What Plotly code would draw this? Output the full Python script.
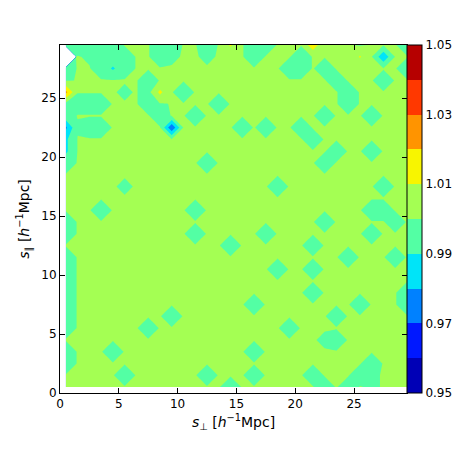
import numpy as np
import plotly.graph_objects as go

# bin centres of the (s_perp, s_par) grid
s_perp = [0.5 + k for k in range(30)]
s_par = [0.5 + k for k in range(30)]

# most bins sit just above 1.00; the rest are listed as (i_perp, j_par) cells
background = 1.0003
low_cells = [
    (0, 29), (1, 29), (2, 29), (3, 29), (4, 29), (8, 29), (9, 29), (12, 29), (16, 29), (17, 29), (29, 29),
    (3, 28), (4, 28), (5, 28), (8, 28), (16, 28), (20, 28),
    (0, 27), (3, 27), (5, 27), (19, 27), (20, 27), (22, 27), (29, 27),
    (7, 26), (23, 26), (27, 26),
    (7, 25), (10, 25), (24, 25),
    (0, 24), (1, 24), (2, 24), (3, 24), (7, 24), (13, 24), (24, 24),
    (0, 23), (8, 23), (11, 23), (22, 23), (26, 23),
    (2, 22), (3, 22), (15, 22), (17, 22), (20, 22),
    (21, 21),
    (23, 20), (26, 20),
    (0, 19), (12, 19), (22, 19),
    (18, 17), (27, 17),
    (3, 15), (11, 15), (26, 15), (27, 15),
    (0, 14), (22, 14), (28, 14),
    (0, 13), (11, 13), (17, 13), (26, 13),
    (14, 12), (21, 12),
    (0, 11), (24, 11), (28, 11),
    (0, 10), (18, 10), (21, 10),
    (0, 9),
    (0, 8), (21, 8), (29, 8),
    (0, 7), (16, 7), (25, 7), (29, 7),
    (0, 6), (9, 6), (23, 6),
    (0, 5), (7, 5), (19, 5),
    (23, 4),
    (0, 3), (4, 3), (16, 3),
    (0, 2), (26, 2),
    (5, 1), (12, 1), (16, 1), (21, 1), (25, 1),
    (14, 0), (22, 0), (24, 0),
]
mild_low_cells = [(25, 29), (2, 28), (9, 28), (12, 28), (0, 26), (5, 25), (8, 24),
                  (1, 22), (5, 17), (22, 4), (26, 1), (26, 0)]
low_value = 0.997
mild_low_value = 0.9993

# single bins with their own values
special_cells = [(4, 27), (27, 28), (9, 22), (0, 22), (0, 21), (0, 20),
                 (8, 25), (14, 29), (21, 29), (25, 28), (0, 25), (0, 28)]
special_values = [0.9885, 0.9822, 0.971, 0.978, 0.988, 0.988,
                  1.0125, 1.0115, 1.017, 1.011, 1.023, np.nan]

z = np.full((len(s_par), len(s_perp)), background)
for i, j in low_cells:
    z[j, i] = low_value
for i, j in mild_low_cells:
    z[j, i] = mild_low_value
for (i, j), v in zip(special_cells, special_values):
    z[j, i] = v

# matplotlib jet, sampled at the middle of each of the 10 bands
band_colors = ["rgb(0,0,182)", "rgb(0,24,255)", "rgb(0,129,255)", "rgb(0,228,248)",
               "rgb(83,255,164)", "rgb(164,255,83)", "rgb(248,245,0)", "rgb(255,148,0)",
               "rgb(255,56,0)", "rgb(182,0,0)"]
colorscale = []
for k, c in enumerate(band_colors):
    lo = 0.0 if k == 0 else round(k / 10 - 0.02, 4)
    hi = 1.0 if k == 9 else round(k / 10 + 0.08, 4)
    colorscale += [[lo, c], [hi, c]]

fig = go.Figure(go.Contour(
    x=s_perp, y=s_par, z=z,
    zmin=0.95, zmax=1.05,
    contours=dict(start=0.95, end=1.05, size=0.01, coloring="fill"),
    colorscale=colorscale,
    line=dict(width=0, smoothing=0),
    connectgaps=False,
    colorbar=dict(x=1.0, xanchor="left", xpad=0, y=0.5, yanchor="middle", ypad=0,
                  len=1, thickness=15, outlinecolor="black", outlinewidth=1,
                  tickvals=[0.95, 0.97, 0.99, 1.01, 1.03, 1.05],
                  ticktext=["0.95", "0.97", "0.99", "1.01", "1.03", "1.05"],
                  ticks="", tickfont=dict(size=12, color="black")),
))

axis = dict(showline=True, linecolor="black", linewidth=1, mirror="ticks",
            ticks="inside", ticklen=5, tickcolor="black", showgrid=False,
            zeroline=False, tickvals=[0, 5, 10, 15, 20, 25], range=[0, 29.5],
            tickfont=dict(size=12, color="black"), automargin=False)

# the page body adds 8 px around the figure
fig.update_layout(
    width=455, height=455,
    margin=dict(l=52, r=56, t=37, b=70, autoexpand=False),
    paper_bgcolor="white", plot_bgcolor="white",
    font=dict(family="DejaVu Sans", size=12, color="black"),
    xaxis=dict(axis, title=dict(text="<i>s</i><sub>⊥</sub> [<i>h</i><sup>−1</sup>Mpc]", standoff=6)),
    yaxis=dict(axis, title=dict(text="<i>s</i><sub>∥</sub> [<i>h</i><sup>−1</sup>Mpc]", standoff=8)),
)

fig.write_html("out.html")
